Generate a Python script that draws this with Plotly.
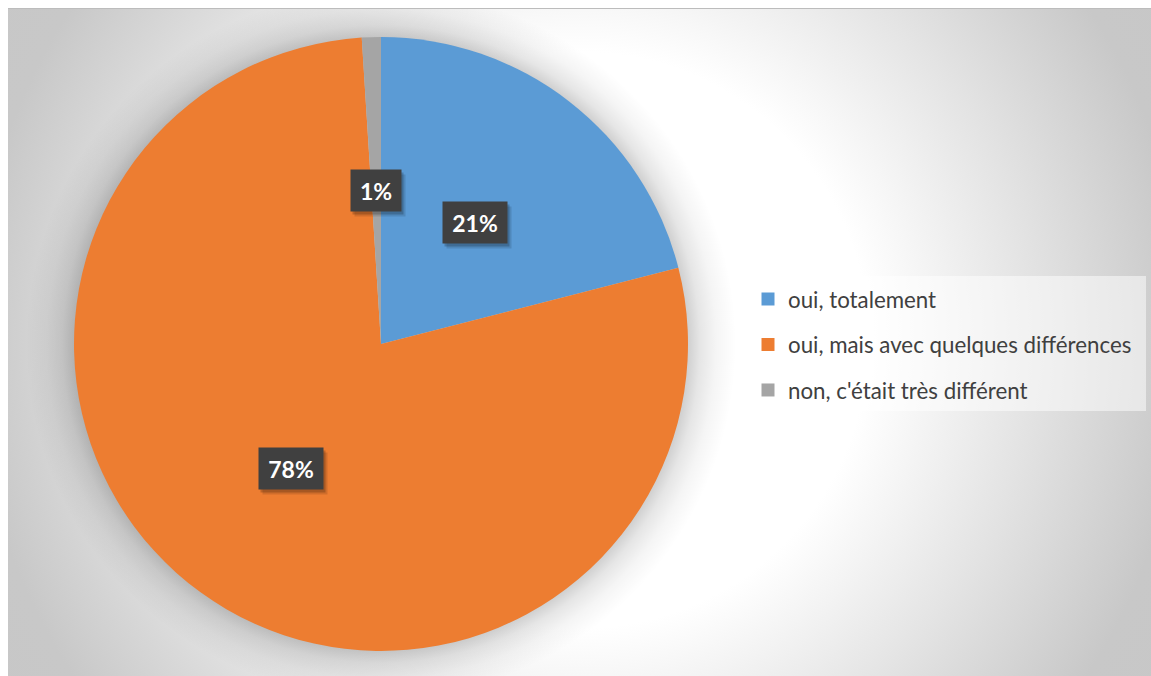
import math
import plotly.graph_objects as go

# Survey answers (share of respondents, %)
labels = ["oui, totalement", "oui, mais avec quelques différences", "non, c'était très différent"]
values = [21, 78, 1]
colors = ["#5B9BD5", "#ED7D31", "#A5A5A5"]

# Canvas geometry (pixels)
W, H = 1151, 676
L, T = 8, 8                 # white margin left/top
cx, cy, R = 381, 344, 307   # pie centre and radius

fig = go.Figure()

# Radial background: white around the middle of the chart, grey towards the edges
gx, gy, GR = 580, 340, 800
fig.add_trace(go.Scatter(
    x=[gx - GR, gx + GR, gx + GR, gx - GR, gx - GR],
    y=[gy - GR, gy - GR, gy + GR, gy + GR, gy - GR],
    mode="lines", fill="toself", line=dict(width=0),
    fillgradient=dict(type="radial",
                      colorscale=[[0, "#ffffff"], [0.36, "#ffffff"],
                                  [0.56, "#e4e4e4"], [0.76, "#c8c8c8"], [1, "#c6c6c6"]]),
    hoverinfo="skip", showlegend=False))

# Soft halo around the pie
SR = R + 60
fig.add_trace(go.Scatter(
    x=[cx - SR, cx + SR, cx + SR, cx - SR, cx - SR],
    y=[cy - SR, cy - SR, cy + SR, cy + SR, cy - SR],
    mode="lines", fill="toself", line=dict(width=0),
    fillgradient=dict(type="radial",
                      colorscale=[[0, "rgba(0,0,0,0.2)"], [(R - 2) / SR, "rgba(0,0,0,0.2)"],
                                  [(R + 12) / SR, "rgba(0,0,0,0.1)"],
                                  [(R + 28) / SR, "rgba(0,0,0,0.04)"],
                                  [(R + 48) / SR, "rgba(0,0,0,0)"], [1, "rgba(0,0,0,0)"]]),
    hoverinfo="skip", showlegend=False))

pw, ph = W - L, H - T
fig.add_trace(go.Pie(
    labels=labels, values=values, sort=False, direction="clockwise", rotation=0,
    marker=dict(colors=colors, line=dict(width=0)),
    textinfo="none", hoverinfo="label+percent", showlegend=False,
    domain=dict(x=[(cx - R - L) / pw, (cx + R - L) / pw],
                y=[(H - (cy + R)) / ph, (H - (cy - R)) / ph])))

# Legend entries
for lab, col in zip(labels, colors):
    fig.add_trace(go.Scatter(x=[None], y=[None], mode="markers", name=lab,
                             legendgroup=lab,
                             marker=dict(symbol="square", size=13, color=col)))

# Data labels: dark boxes at half radius on each slice's mid angle
total = sum(values)
cum = 0
annotations = []
for v in values:
    mid = (cum + v / 2) / total * 2 * math.pi
    cum += v
    ax = cx + 0.5 * R * math.sin(mid)
    ay = cy - 0.5 * R * math.cos(mid)
    txt = f"{v}%"
    bw, bh = 14 * len(txt) + 22, 41
    for dx, dy, col in [(4, 5, "rgba(0,0,0,0.12)"), (2, 3, "rgba(0,0,0,0.2)")]:
        annotations.append(dict(x=ax + dx, y=ay + dy, xref="x", yref="y", text="",
                                showarrow=False, width=bw, height=bh, borderpad=0,
                                bgcolor=col))
    annotations.append(dict(x=ax, y=ay, xref="x", yref="y", text=txt, showarrow=False,
                            width=bw, height=bh, borderpad=0, bgcolor="#404040",
                            font=dict(family="Lato", size=23, color="white", weight="bold")))

fig.update_layout(
    width=W, height=H,
    margin=dict(l=L, t=T, r=0, b=0),
    paper_bgcolor="white", plot_bgcolor="rgba(0,0,0,0)",
    xaxis=dict(range=[L, W], visible=False, fixedrange=True),
    yaxis=dict(range=[H, T], visible=False, fixedrange=True),
    annotations=annotations,
    shapes=[
        dict(type="rect", xref="x", yref="y", x0=753, x1=1146, y0=276, y1=411,
             fillcolor="rgba(255,255,255,0.5)", line=dict(width=0), layer="above"),
        dict(type="line", xref="x", yref="y", x0=L, x1=W, y0=8.5, y1=8.5,
             line=dict(color="#bcbcbc", width=1), layer="above"),
    ],
    legend=dict(x=(748 - L) / pw, y=(H - 278) / ph, xanchor="left", yanchor="top",
                bgcolor="rgba(0,0,0,0)", tracegroupgap=13.5,
                font=dict(family="Lato", size=22.3, color="#404040")),
)

fig.write_html("out.html")
